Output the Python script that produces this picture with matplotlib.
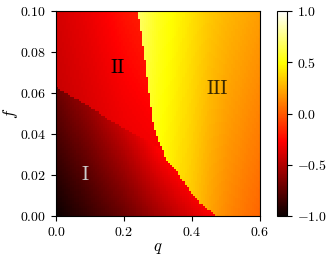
"""Phase diagram heatmap in the (q, f) plane"""
import matplotlib

matplotlib.use("Agg")
import matplotlib.pyplot as plt
import numpy as np
from matplotlib.ticker import FormatStrFormatter

plt.rcParams["font.family"] = "serif"
plt.rcParams["font.serif"] = ["cmr10", "DejaVu Serif"]
plt.rcParams["mathtext.fontset"] = "cm"
plt.rcParams["font.size"] = 10

# boundary between region II and III: q position for given f
B23_F = [0.0, 0.0013, 0.0062, 0.0143, 0.0224, 0.0273, 0.037, 0.045, 0.0566, 0.068, 0.081, 0.094, 0.1]
B23_Q = [0.475, 0.463, 0.424, 0.384, 0.355, 0.326, 0.301, 0.286, 0.276, 0.267, 0.257, 0.245, 0.240]

# boundary between region I and II: f position for given q
B12_Q = [0.0, 0.080, 0.159, 0.227, 0.296, 0.6]
B12_F = [0.0628, 0.055, 0.0468, 0.0403, 0.0338, 0.0]

# region I: value at f=0 and growth per unit f, along q
I_Q = [0.0, 0.1, 0.2, 0.3, 0.4, 0.5]
I_VQ = [-1.0, -0.86, -0.72, -0.55, -0.38, -0.22]
I_SLOPE = [4.7, 5.4, 6.8, 8.5, 8.5, 8.5]

# region II: value at f=0.1 and growth per unit f, along q
II_Q = [0.0, 0.1, 0.2, 0.3]
II_V = [-0.40, -0.32, -0.22, -0.14]
II_SLOPE = [1.0, 1.2, 1.8, 2.4]

# region III values along q at the top (f=0.1) and bottom (f=0)
III_Q = [0.24, 0.30, 0.35, 0.40, 0.45, 0.50, 0.55, 0.60]
III_TOP = [0.70, 0.55, 0.48, 0.40, 0.33, 0.28, 0.24, 0.20]
III_BOT = [0.55, 0.48, 0.40, 0.32, 0.22, 0.14, 0.08, 0.03]

q_edges = np.linspace(0, 0.6, 101)
f_edges = np.linspace(0, 0.1, 101)
qc = 0.5 * (q_edges[:-1] + q_edges[1:])
fc = 0.5 * (f_edges[:-1] + f_edges[1:])
Q, F = np.meshgrid(qc, fc)

v_one = np.interp(Q, I_Q, I_VQ) + F * np.interp(Q, I_Q, I_SLOPE)
v_two = np.interp(Q, II_Q, II_V) + (F - 0.1) * np.interp(Q, II_Q, II_SLOPE)
w = F / 0.1
v_three = np.interp(Q, III_Q, III_TOP) * w + np.interp(Q, III_Q, III_BOT) * (1 - w)

in_three = Q >= np.interp(F, B23_F, B23_Q)
in_one = F < np.interp(Q, B12_Q, B12_F)
Z = np.where(in_three, v_three, np.where(in_one, v_one, v_two))

fig = plt.figure(figsize=(3.32, 2.61), dpi=100)
ax = fig.add_axes([0.169, 0.172, 0.614, 0.786])
cax = fig.add_axes([0.834, 0.172, 0.030, 0.786])

mesh = ax.pcolormesh(q_edges, f_edges, Z, cmap="hot", vmin=-1, vmax=1)
ax.set_xlim(0, 0.6)
ax.set_ylim(0, 0.1)
ax.set_xticks([0, 0.2, 0.4, 0.6])
ax.set_yticks([0, 0.02, 0.04, 0.06, 0.08, 0.1])
ax.xaxis.set_major_formatter(FormatStrFormatter("$%.1f$"))
ax.yaxis.set_major_formatter(FormatStrFormatter("$%.2f$"))
ax.set_xlabel("$q$", fontsize=12)
ax.set_ylabel("$f$", fontsize=12)
ax.xaxis.set_label_coords(0.5, -0.12)
ax.yaxis.set_label_coords(-0.175, 0.5)

ax.text(0.085, 0.020, "I", color="0.8", ha="center", va="center", fontsize=14)
ax.text(0.18, 0.072, "II", color="black", ha="center", va="center", fontsize=14)
ax.text(0.475, 0.062, "III", color="#3a2800", ha="center", va="center", fontsize=14)

cb = fig.colorbar(mesh, cax=cax, ticks=[-1, -0.5, 0, 0.5, 1])
cb.ax.yaxis.set_major_formatter(FormatStrFormatter("$%.1f$"))

fig.savefig("out.png", dpi=100)
